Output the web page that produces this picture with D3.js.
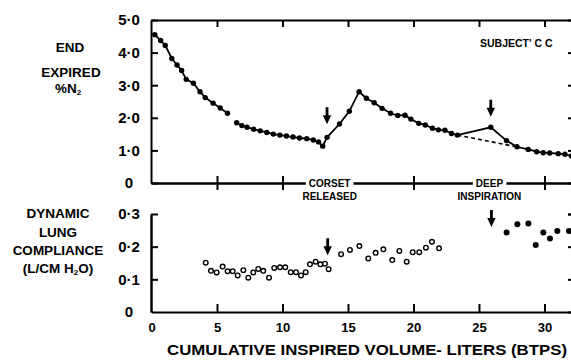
<!DOCTYPE html>
<html>
<head>
<meta charset="utf-8">
<script src="https://cdn.jsdelivr.net/npm/d3@7"></script>
<style>
  body { margin: 0; background: #fff; }
  svg { display: block; font-family: "Liberation Sans", Arial, sans-serif; font-weight: bold; }
  .axis path, .axis line { stroke: #000; stroke-width: 2; }
  .axis text { fill: #000; font-weight: bold; }
</style>
</head>
<body>
<svg id="chart" width="571" height="360"></svg>
<script>
// ticks
const volumeTicks = [0, 5, 10, 15, 20, 25, 30];
const n2Ticks = [0, 1, 2, 3, 4, 5];
const complianceTicks = [0, 0.1, 0.2, 0.3];

// end expired N2, before the gap in the trace
const n2VolumeA = [0.25, 0.7, 1.05, 1.55, 1.95, 2.3, 2.65, 3.2, 3.7, 4.1, 4.7, 5.25, 5.8];
const n2PercentA = [4.55, 4.37, 4.22, 3.82, 3.62, 3.45, 3.18, 3.06, 2.8, 2.62, 2.45, 2.3, 2.14];

// end expired N2, after the gap
const n2VolumeB = [6.5, 6.9, 7.3, 7.8, 8.3, 8.8, 9.3, 9.8, 10.3, 10.8, 11.3, 11.85, 12.35, 12.75, 13.07,
  13.4, 14.35, 15.1, 15.85, 16.4, 17.0, 17.6, 18.25, 18.8, 19.35, 19.8, 20.4, 20.9, 21.45, 21.9, 22.4,
  22.9, 23.35, 25.9, 27.1, 27.9, 28.76, 29.4, 29.9, 30.4, 31.05, 31.56, 32.05];
const n2PercentB = [1.85, 1.76, 1.71, 1.65, 1.6, 1.55, 1.5, 1.47, 1.44, 1.41, 1.38, 1.36, 1.32, 1.26, 1.13,
  1.4, 1.81, 2.2, 2.8, 2.6, 2.46, 2.29, 2.14, 2.07, 2.08, 1.96, 1.83, 1.78, 1.68, 1.63, 1.62,
  1.52, 1.47, 1.71, 1.3, 1.11, 1.03, 0.96, 0.93, 0.92, 0.9, 0.88, 0.83];

// extrapolated baseline (dashed)
const n2DashedVolume = [23.35, 28.0];
const n2DashedPercent = [1.47, 1.1];

// dynamic compliance, open circles
const openVolume = [4.14, 4.54, 4.97, 5.43, 5.81, 6.2, 6.58, 7.01, 7.39, 7.77, 8.15, 8.53, 8.97, 9.37,
  9.81, 10.21, 10.63, 11.03, 11.41, 11.77, 12.1, 12.53, 12.89, 13.24, 13.52, 14.47, 15.15, 15.87,
  16.55, 17.11, 17.7, 18.38, 18.92, 19.48, 19.94, 20.44, 20.95, 21.41, 21.95];
const openCompliance = [0.151, 0.126, 0.121, 0.139, 0.125, 0.125, 0.112, 0.128, 0.105, 0.121, 0.132,
  0.126, 0.105, 0.135, 0.137, 0.137, 0.122, 0.122, 0.112, 0.122, 0.146, 0.154, 0.146, 0.148, 0.131,
  0.177, 0.19, 0.202, 0.164, 0.181, 0.192, 0.159, 0.187, 0.154, 0.183, 0.183, 0.197, 0.215, 0.195];

// dynamic compliance, filled circles
const filledVolume = [27.11, 27.93, 28.77, 29.33, 29.91, 30.42, 30.98, 31.87];
const filledCompliance = [0.243, 0.269, 0.271, 0.205, 0.243, 0.225, 0.248, 0.248];

// arrows (tip positions)
const n2ArrowVolume = [13.4, 25.9];
const n2ArrowTip = [1.8, 2.03];
const complianceArrowVolume = [13.45, 25.95];
const complianceArrowTip = [0.174, 0.26];

// event labels on the shared axis
const eventVolume = [13.6, 25.8];
const eventTop = ["CORSET", "DEEP"];
const eventBottom = ["RELEASED", "INSPIRATION"];

const svg = d3.select("#chart");

const x = d3.scaleLinear().domain([0, 32.2]).range([151.5, 573.3]);
const yTop = d3.scaleLinear().domain([0, 5]).range([183, 20]);
const yBot = d3.scaleLinear().domain([0, 0.3]).range([312, 214]);

const fmt = d => d === 0 ? "0" : d3.format(".1f")(d).replace(".", "·");

// left axes, ticks pointing inward
svg.append("g").attr("class", "axis left")
  .attr("transform", "translate(151,0)")
  .call(d3.axisLeft(yTop).tickValues(n2Ticks).tickSizeInner(-7).tickSizeOuter(0).tickFormat(fmt));
svg.append("g").attr("class", "axis left")
  .attr("transform", "translate(151,0)")
  .call(d3.axisLeft(yBot).tickValues(complianceTicks.slice(1)).tickSizeInner(-7).tickSizeOuter(0).tickFormat(fmt));
svg.append("g").attr("class", "axis left")
  .attr("transform", "translate(151,0)")
  .call(d3.axisLeft(yBot).tickValues([0]).tickSize(0).tickFormat(fmt));
svg.selectAll(".left text")
  .attr("text-anchor", "middle").attr("x", -22)
  .style("font-size", "15px");

// right axes (edge just outside the frame)
svg.append("g").attr("class", "axis")
  .attr("transform", "translate(573,0)")
  .call(d3.axisLeft(yTop).tickValues(n2Ticks.slice(1, 5)).tickSize(5).tickFormat(""));
svg.append("g").attr("class", "axis")
  .attr("transform", "translate(573,0)")
  .call(d3.axisLeft(yBot).tickValues(complianceTicks.slice(1)).tickSize(5).tickFormat(""));

// top frame
svg.append("g").attr("class", "axis")
  .attr("transform", "translate(0,20)")
  .call(d3.axisTop(x).tickValues(volumeTicks.slice(1)).tickSizeInner(-7).tickSizeOuter(0).tickFormat(""));

// shared middle axis, ticks across both sides
svg.append("g").attr("class", "axis")
  .attr("transform", "translate(0,183)")
  .call(d3.axisBottom(x).tickValues(volumeTicks.slice(1)).tickSizeInner(7).tickSizeOuter(0).tickFormat(""));
svg.append("g").attr("class", "axis")
  .attr("transform", "translate(0,183)")
  .call(d3.axisTop(x).tickValues(volumeTicks.slice(1)).tickSizeInner(7).tickSizeOuter(0).tickFormat(""));

// bottom axis
const bottom = svg.append("g").attr("class", "axis")
  .attr("transform", "translate(0,312)")
  .call(d3.axisBottom(x).tickValues(volumeTicks).tickSizeInner(-8).tickSizeOuter(0).tickPadding(11));
bottom.selectAll("text").style("font-size", "13px");
bottom.selectAll(".tick line").filter(d => d === 0).remove();

// event labels, each breaking the middle line
eventVolume.forEach((v, i) => {
  const t = svg.append("text")
    .attr("x", x(v)).attr("y", 187)
    .attr("text-anchor", "middle")
    .style("font-size", "10px")
    .text(eventTop[i]);
  const b = t.node().getBBox();
  svg.insert("rect", () => t.node())
    .attr("x", b.x - 3).attr("y", 174).attr("width", b.width + 6).attr("height", 18)
    .attr("fill", "#fff");
  svg.append("text")
    .attr("x", x(v)).attr("y", 200)
    .attr("text-anchor", "middle")
    .style("font-size", "10px")
    .text(eventBottom[i]);
});

// N2 trace
const lineTop = d3.line().x(d => x(d[0])).y(d => yTop(d[1]));
const segA = d3.zip(n2VolumeA, n2PercentA);
const segB = d3.zip(n2VolumeB, n2PercentB);
[segA, segB].forEach(seg => {
  svg.append("path").datum(seg)
    .attr("d", lineTop)
    .attr("fill", "none").attr("stroke", "#000").attr("stroke-width", 1.8);
  svg.append("g").selectAll("circle").data(seg).join("circle")
    .attr("cx", d => x(d[0])).attr("cy", d => yTop(d[1])).attr("r", 2.7)
    .attr("fill", "#000");
});
svg.append("path").datum(d3.zip(n2DashedVolume, n2DashedPercent))
  .attr("d", lineTop)
  .attr("fill", "none").attr("stroke", "#000").attr("stroke-width", 1.6)
  .attr("stroke-dasharray", "4,3");

// compliance points
svg.append("g").selectAll("circle").data(d3.zip(openVolume, openCompliance)).join("circle")
  .attr("cx", d => x(d[0])).attr("cy", d => yBot(d[1])).attr("r", 2.3)
  .attr("fill", "#fff").attr("stroke", "#000").attr("stroke-width", 1.4);
svg.append("g").selectAll("circle").data(d3.zip(filledVolume, filledCompliance)).join("circle")
  .attr("cx", d => x(d[0])).attr("cy", d => yBot(d[1])).attr("r", 3)
  .attr("fill", "#000");

// arrows
function arrow(cx, tip) {
  return `M${cx - 1.4},${tip - 17} h2.8 v8 h2.8 L${cx},${tip} L${cx - 4.2},${tip - 9} h2.8 Z`;
}
d3.zip(n2ArrowVolume, n2ArrowTip).forEach(d => {
  svg.append("path").attr("d", arrow(x(d[0]), yTop(d[1]))).attr("fill", "#000");
});
d3.zip(complianceArrowVolume, complianceArrowTip).forEach(d => {
  svg.append("path").attr("d", arrow(x(d[0]), yBot(d[1]))).attr("fill", "#000");
});

// titles
svg.append("text").attr("x", 480).attr("y", 47)
  .style("font-size", "10.5px").text("SUBJECT' C C");

const topTitle = svg.append("text").attr("text-anchor", "middle").style("font-size", "13.5px");
topTitle.append("tspan").attr("x", 70).attr("y", 52).text("END");
topTitle.append("tspan").attr("x", 71).attr("y", 77).text("EXPIRED");
topTitle.append("tspan").attr("x", 68).attr("y", 93).text("%N");
topTitle.append("tspan").attr("dy", 2).style("font-size", "8px").text("2");

const botTitle = svg.append("text").attr("text-anchor", "middle").style("font-size", "13.5px");
botTitle.append("tspan").attr("x", 58).attr("y", 218).text("DYNAMIC");
botTitle.append("tspan").attr("x", 58).attr("y", 237).text("LUNG");
botTitle.append("tspan").attr("x", 58).attr("y", 255).text("COMPLIANCE");
const paren = svg.append("text").attr("x", 58).attr("y", 273)
  .attr("text-anchor", "middle").style("font-size", "13.5px");
paren.append("tspan").text("(L/CM H");
paren.append("tspan").attr("dy", 2).style("font-size", "8px").text("2");
paren.append("tspan").attr("dy", -2).text("O)");

svg.append("text").attr("x", 367).attr("y", 355)
  .attr("text-anchor", "middle").style("font-size", "15px")
  .attr("textLength", 400).attr("lengthAdjust", "spacingAndGlyphs")
  .text("CUMULATIVE INSPIRED VOLUME- LITERS (BTPS)");
</script>
</body>
</html>
